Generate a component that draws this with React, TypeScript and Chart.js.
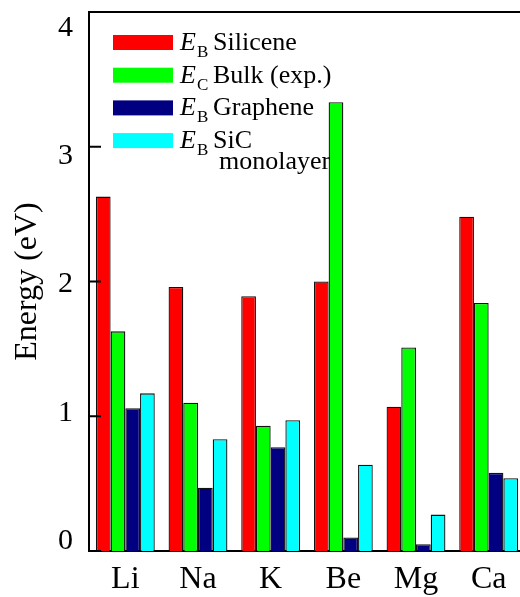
import React, { useEffect, useRef } from "react";
import { Chart, registerables } from "chart.js";

Chart.register(...registerables);

const categories = ["Li", "Na", "K", "Be", "Mg", "Ca"];
const silicene = [2.63, 1.96, 1.89, 2.0, 1.07, 2.48];
const bulkExp = [1.63, 1.1, 0.93, 3.33, 1.51, 1.84];
const graphene = [1.06, 0.47, 0.77, 0.1, 0.05, 0.58];
const sicMono = [1.17, 0.83, 0.97, 0.64, 0.27, 0.54];
const yTicks = [0, 1, 2, 3, 4];
const seriesNames = ["Silicene", "Bulk (exp.)", "Graphene", "SiC\nmonolayer"];
const seriesSubs = ["B", "C", "B", "B"];
const seriesColors = ["#ff0000", "#00ff00", "#000080", "#00ffff"];

const SERIF = "'Liberation Serif', 'Times New Roman', serif";

const frameAndTicks = {
  id: "frameAndTicks",
  afterDraw(chart: any) {
    const { ctx, chartArea } = chart;
    const y = chart.scales.y;
    ctx.save();
    ctx.strokeStyle = "#000";
    ctx.lineWidth = 2;
    ctx.beginPath();
    ctx.moveTo(chartArea.left - 1, chartArea.top);
    ctx.lineTo(chartArea.right + 10, chartArea.top);
    ctx.stroke();
    yTicks.forEach((v) => {
      const py = y.getPixelForValue(v);
      ctx.beginPath();
      ctx.moveTo(chartArea.left, py);
      ctx.lineTo(chartArea.left + 12, py);
      ctx.stroke();
    });
    ctx.restore();
  },
};

const legendPlugin = {
  id: "eLegend",
  afterDraw(chart: any) {
    const ctx = chart.ctx;
    ctx.save();
    chart.data.datasets.forEach((ds: any, i: number) => {
      const top = 35 + i * 32.7;
      ctx.fillStyle = ds.backgroundColor;
      ctx.fillRect(113, top, 60, 15);
      const base = top + 15;
      ctx.fillStyle = "#000";
      ctx.textBaseline = "alphabetic";
      ctx.textAlign = "left";
      ctx.font = `italic 26px ${SERIF}`;
      ctx.fillText("E", 180, base);
      ctx.font = `17px ${SERIF}`;
      ctx.fillText(seriesSubs[i], 197, base + 7);
      ctx.font = `26px ${SERIF}`;
      const lines = seriesNames[i].split("\n");
      lines.forEach((ln, j) => {
        ctx.fillText(ln, j === 0 ? 213 : 219, base + j * 21);
      });
    });
    ctx.restore();
  },
};

export default function App() {
  const ref = useRef<HTMLCanvasElement>(null);
  useEffect(() => {
    document.documentElement.style.overflow = "hidden";
    document.body.style.overflow = "hidden";
    const mk = (data: number[], i: number) => ({
      label: seriesNames[i],
      data,
      backgroundColor: seriesColors[i],
      borderColor: "#111",
      borderWidth: 1.3,
      borderSkipped: "bottom" as const,
      categoryPercentage: 0.81,
      barPercentage: 1.0,
      yAxisID: "y",
    });
    const chart = new Chart(ref.current!, {
      type: "bar",
      data: {
        labels: categories,
        datasets: [mk(silicene, 0), mk(bulkExp, 1), mk(graphene, 2), mk(sicMono, 3)],
      },
      plugins: [frameAndTicks, legendPlugin],
      options: {
        animation: false,
        responsive: false,
        devicePixelRatio: 1,
        layout: { padding: { top: 12, right: 5, left: 0, bottom: 0 } },
        plugins: { legend: { display: false }, tooltip: { enabled: false } },
        scales: {
          x: {
            type: "category",
            offset: true,
            grid: { display: false, drawTicks: false },
            border: { display: true, color: "#000", width: 2 },
            ticks: { color: "#000", padding: 9, font: { family: SERIF, size: 32 }, maxRotation: 0 },
            afterFit(scale: any) {
              scale.height = 46;
              scale.paddingLeft = 0;
              scale.paddingRight = 0;
            },
          },
          y: {
            type: "linear",
            position: "left",
            min: 0,
            max: 4,
            display: false,
          },
          yl: {
            type: "linear",
            position: "left",
            min: -0.078,
            max: 4.125,
            grid: { display: false, drawTicks: false },
            border: { display: true, color: "#000", width: 2 },
            afterBuildTicks(scale: any) {
              scale.ticks = yTicks.map((v) => ({ value: v }));
            },
            ticks: {
              color: "#000",
              padding: 16,
              font: { family: SERIF, size: 30 },
              callback: (v: any) => String(v),
            },
            title: {
              display: true,
              text: "Energy (eV)",
              color: "#000",
              padding: { top: 8, bottom: 0 },
              font: { family: SERIF, size: 32 },
            },
            afterFit(scale: any) {
              scale.width = 89;
              scale.paddingTop = 0;
              scale.paddingBottom = 0;
            },
          },
        },
      },
    } as any);
    return () => chart.destroy();
  }, []);
  return (
    <div style={{ position: "fixed", left: 0, top: 0, width: 520, height: 597, overflow: "hidden", background: "#fff" }}>
      <canvas ref={ref} width={530} height={597} style={{ width: 530, height: 597, display: "block" }} />
    </div>
  );
}
